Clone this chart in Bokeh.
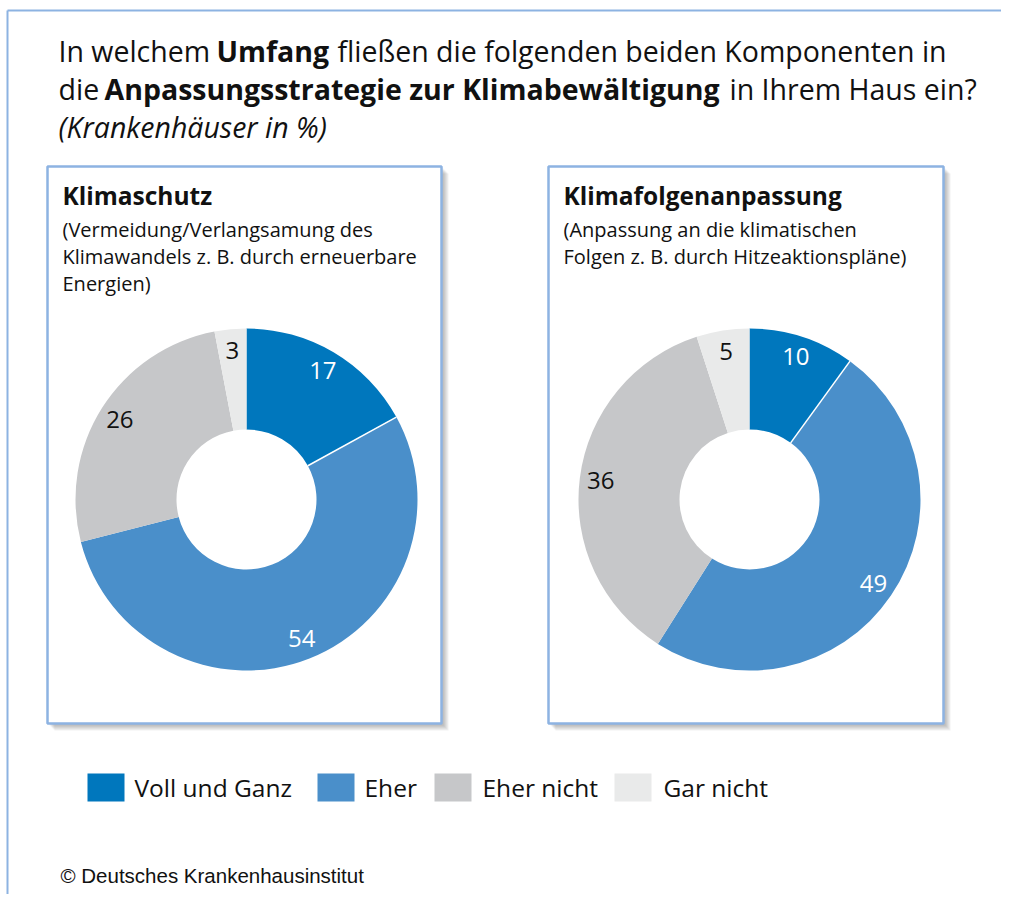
import numpy as np
from bokeh.plotting import figure
from bokeh.models import Range1d
from bokeh.core.properties import value
from bokeh.embed import file_html
from bokeh.resources import INLINE

# ---------------- data ----------------
categories = ["Voll und Ganz", "Eher", "Eher nicht", "Gar nicht"]
klimaschutz = [17, 54, 26, 3]
klimafolgen = [10, 49, 36, 5]
colors = ["#0077BD", "#4A8FCA", "#C6C7C9", "#E9EAEA"]
label_colors = ["#FFFFFF", "#FFFFFF", "#111111", "#111111"]

panel_titles = ["Klimaschutz", "Klimafolgenanpassung"]
panel_sub = [
    ["(Vermeidung/Verlangsamung des", "Klimawandels z. B. durch erneuerbare", "Energien)"],
    ["(Anpassung an die klimatischen", "Folgen z. B. durch Hitzeaktionspläne)"],
]

FONT = "Open Sans"
W, H = 1001, 894
PH = 910  # page height used for coordinate conversion


def Y(py):
    return PH - py


p = figure(width=W, height=H, x_range=Range1d(0, W), y_range=Range1d(PH - H, PH),
           output_backend="svg", toolbar_location=None, min_border=0,
           x_axis_type=None, y_axis_type=None)
p.grid.visible = False
p.outline_line_color = None
p.background_fill_color = "white"
p.border_fill_color = "white"

frame_col = "#8DB3E2"
# outer frame (left + top)
p.segment(x0=[7, 7], y0=[Y(10), Y(10)], x1=[7, W], y1=[Y(H), Y(10)],
          line_color=frame_col, line_width=2)


def txt(x, py, s, size, style="normal", color="#111111", font=FONT, align="left"):
    p.text(x=[x], y=[Y(py)], text=[s], text_font=value(font), text_font_size=f"{size}px",
           text_font_style=style, text_color=color, text_align=align,
           text_baseline="middle")

# ---------------- title ----------------
TS = 28.5
txt(58, 50, "In welchem", TS)
txt(216, 50, "Umfang", TS, "bold")
txt(337, 50, "fließen die folgenden beiden Komponenten in", TS)
txt(58, 88, "die", TS)
txt(104, 88, "Anpassungsstrategie zur Klimabewältigung", TS, "bold")
txt(729, 88, "in Ihrem Haus ein?", TS)
txt(58, 126, "(Krankenhäuser in %)", TS, "italic")

# ---------------- panels ----------------
boxes = [(47, 441), (548, 943)]
btop, bbot = 166, 723
for (l, r) in boxes:
    for off in [7, 6, 5, 4, 3, 2]:
        p.quad(left=[l + off], right=[r + off], top=[Y(btop + off)], bottom=[Y(bbot + off)],
               fill_color="#555555", fill_alpha=0.08, line_color=None)
    p.quad(left=[l], right=[r], top=[Y(btop)], bottom=[Y(bbot)],
           fill_color="white", line_color=frame_col, line_width=2.5)

for i, (l, r) in enumerate(boxes):
    tx = l + 15
    txt(tx, 195, panel_titles[i], 24.5, "bold")
    for j, line in enumerate(panel_sub[i]):
        txt(tx, 229 + 27 * j, line, 20)

# ---------------- donuts ----------------
centers = [(246, 499), (749, 499)]
r_out, r_in, r_lab = 171, 70, 150
for (cx, cy), vals in zip(centers, [klimaschutz, klimafolgen]):
    vals = np.array(vals, dtype=float)
    frac = vals / vals.sum()
    cum = np.concatenate([[0], np.cumsum(frac)])
    start = np.pi / 2 - 2 * np.pi * cum[:-1]
    end = np.pi / 2 - 2 * np.pi * cum[1:]
    p.annular_wedge(x=[cx] * len(vals), y=[Y(cy)] * len(vals), inner_radius=r_in,
                    outer_radius=r_out, start_angle=list(start), end_angle=list(end),
                    direction="clock", fill_color=colors, line_color=None)
    # thin white separator between first and second slice
    a = end[0]
    p.segment(x0=[cx + r_in * np.cos(a)], y0=[Y(cy) + r_in * np.sin(a)],
              x1=[cx + r_out * np.cos(a)], y1=[Y(cy) + r_out * np.sin(a)],
              line_color="white", line_width=1.5)
    mid = (start + end) / 2
    p.text(x=list(cx + r_lab * np.cos(mid)), y=list(Y(cy) + r_lab * np.sin(mid)),
           text=[f"{int(v)}" for v in vals], text_font=value(FONT), text_font_size="24px",
           text_color=label_colors, text_align="center", text_baseline="middle")

# ---------------- legend ----------------
leg_sq = [87, 317, 434, 614]
leg_tx = [134, 364, 482, 663]
p.quad(left=leg_sq, right=[x + 37 for x in leg_sq], top=[Y(773)] * 4, bottom=[Y(801)] * 4,
       fill_color=colors, line_color=None)
p.text(x=leg_tx, y=[Y(787)] * 4, text=categories, text_font=value(FONT),
       text_font_size="24.5px", text_color="#111111", text_align="left",
       text_baseline="middle")

# ---------------- source ----------------
txt(60, 875, "© Deutsches Krankenhausinstitut", 20.5, font="Liberation Sans")

open("out.html", "w").write(file_html(p, INLINE))
